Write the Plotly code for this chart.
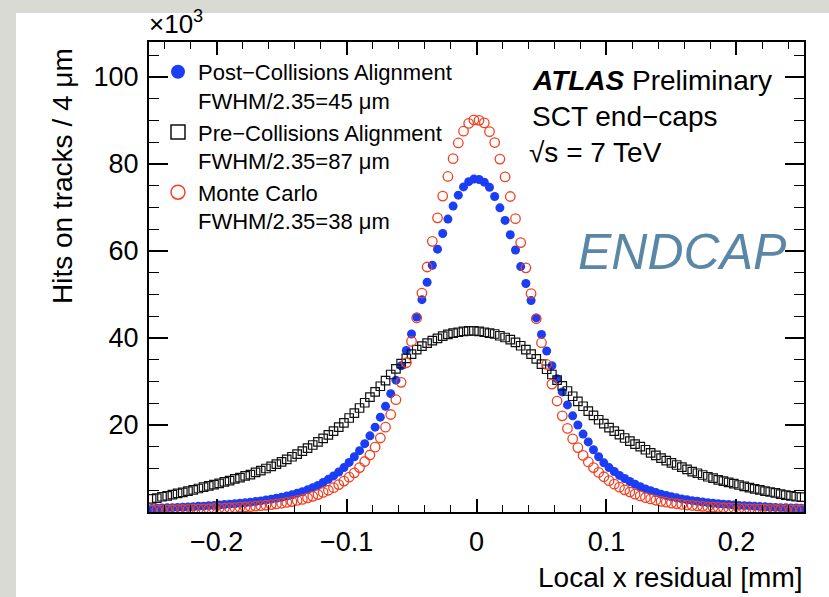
import plotly.graph_objects as go

# ---------------- data (hits on tracks, in units of 10^3) ----------------
bin_width = 0.004          # mm
first_center = -0.250      # mm

pre_left = [3.0, 3.2, 3.5, 3.7, 4.0, 4.3, 4.5, 4.8, 5.1, 5.4, 5.7, 6.0, 6.3,
            6.6, 6.9, 7.2, 7.6, 7.9, 8.3, 8.6, 9.1, 9.5, 10.0, 10.5, 11.0, 11.5,
            12.1, 12.7, 13.3, 14.0, 14.7, 15.4, 16.1, 16.9, 17.7, 18.6, 19.5, 20.5,
            21.6, 22.7, 23.9, 25.1, 26.4, 27.6, 28.9, 30.2, 31.6, 32.9, 34.1, 35.3,
            36.3, 37.3, 38.1, 38.8, 39.4, 39.9, 40.4, 40.8, 41.1, 41.3, 41.5, 41.6, 41.6]
pre_right = [41.5, 41.3, 41.1, 40.9, 40.5, 40.1, 39.6, 39.0, 38.2, 37.3, 36.3, 35.2, 34.0,
             32.8, 31.6, 30.3, 29.0, 27.8, 26.6, 25.4, 24.3, 23.2, 22.2, 21.2, 20.3,
             19.4, 18.6, 17.8, 17.0, 16.3, 15.6, 15.0, 14.3, 13.6, 13.0, 12.4, 11.8,
             11.3, 10.8, 10.3, 9.8, 9.3, 8.9, 8.5, 8.1, 7.8, 7.4, 7.1, 6.8, 6.5,
             6.2, 5.9, 5.6, 5.3, 5.1, 4.8, 4.6, 4.4, 4.1, 3.9, 3.7, 3.5, 3.4]

post_left = [0.8, 0.85, 0.9, 0.95, 1.0, 1.05, 1.1, 1.15, 1.2, 1.3, 1.35, 1.45, 1.5,
             1.6, 1.7, 1.8, 1.9, 2.0, 2.1, 2.25, 2.4, 2.55, 2.75, 2.95, 3.15, 3.4,
             3.65, 3.95, 4.3, 4.65, 5.1, 5.6, 6.1, 6.8, 7.5, 8.3, 9.2, 10.2,
             11.4, 12.7, 14.1, 15.7, 17.5, 19.5, 21.8, 24.3, 27.2, 30.3, 33.6, 37.1,
             40.9, 44.8, 48.8, 52.8, 56.7, 60.4, 64.0, 67.3, 70.3, 72.8, 74.7, 75.9, 76.5]
post_right = [76.4, 75.8, 74.6, 72.5, 69.9, 67.0, 63.7, 60.2, 56.4, 52.5, 48.6, 44.6, 40.8,
              37.0, 33.6, 30.6, 27.6, 24.6, 22.1, 20.0, 17.9, 16.1, 14.3, 12.7, 11.3,
              10.2, 9.3, 8.4, 7.7, 7.0, 6.4, 5.8, 5.3, 4.9, 4.5, 4.1, 3.8,
              3.5, 3.25, 3.0, 2.8, 2.6, 2.45, 2.3, 2.15, 2.0, 1.9, 1.8, 1.7, 1.6,
              1.5, 1.45, 1.4, 1.3, 1.25, 1.2, 1.1, 1.05, 1.0, 0.95, 0.9, 0.9, 0.85]

mc_left = [0.45, 0.47, 0.49, 0.5, 0.52, 0.55, 0.58, 0.6, 0.63, 0.67, 0.7, 0.75, 0.8,
           0.85, 0.9, 0.95, 1.0, 1.1, 1.15, 1.25, 1.35, 1.45, 1.55, 1.7, 1.85, 2.0,
           2.2, 2.4, 2.65, 2.9, 3.25, 3.6, 4.0, 4.5, 5.0, 5.6, 6.3, 7.1,
           8.0, 9.0, 10.2, 11.6, 13.1, 14.9, 17.0, 19.5, 22.4, 25.8, 29.8, 34.3,
           39.2, 44.6, 50.3, 56.3, 62.2, 67.6, 72.6, 77.1, 81.2, 84.8, 87.5, 89.3, 90.1]
mc_right = [90.0, 89.4, 87.4, 84.9, 81.1, 77.0, 72.5, 67.4, 61.9, 56.1, 50.2, 44.4, 38.9,
            33.9, 29.4, 25.5, 22.1, 19.2, 16.8, 14.8, 13.0, 11.5, 10.2, 9.1, 8.1,
            7.2, 6.4, 5.7, 5.1, 4.6, 4.1, 3.7, 3.3, 3.0, 2.7, 2.45, 2.25,
            2.05, 1.9, 1.75, 1.6, 1.5, 1.4, 1.3, 1.2, 1.12, 1.05, 0.98, 0.92, 0.87,
            0.82, 0.78, 0.74, 0.7, 0.66, 0.63, 0.6, 0.57, 0.55, 0.52, 0.5, 0.48, 0.46]

pre = pre_left + pre_right
post = post_left + post_right
mc = mc_left + mc_right
x = [round(first_center + i * bin_width, 3) for i in range(len(pre))]

labels = ["Post\u2212Collisions Alignment<br>FWHM/2.35=45 \u03bcm",
          "Pre\u2212Collisions Alignment<br>FWHM/2.35=87 \u03bcm",
          "Monte Carlo<br>FWHM/2.35=38 \u03bcm"]

x_ticks = [-0.2, -0.1, 0, 0.1, 0.2]
y_ticks = [20, 40, 60, 80, 100]

BLUE = "#1a3df5"
BLACK = "#111111"
RED = "#f2401f"

# ---------------- figure ----------------
W, H = 829, 597
ML, MR, MT, MB = 149, 25, 42, 85
PW, PH = W - ML - MR, H - MT - MB

def px(xp):
    return (xp - ML) / PW

def py(yp):
    return (H - MB - yp) / PH

FONT = "Liberation Sans, Arial, Helvetica, sans-serif"

styles = [
    dict(symbol="circle", color=BLUE, line=dict(width=0)),
    dict(symbol="square-open", color=BLACK, line=dict(width=1.2, color=BLACK)),
    dict(symbol="circle-open", color=RED, line=dict(width=1.3, color=RED)),
]
data_sizes = [9, 8.5, 9.5]
legend_sizes = [14, 14, 14]
series = [post, pre, mc]

fig = go.Figure()
for s, st, ds, name in zip(series, styles, data_sizes, labels):
    fig.add_trace(go.Scatter(x=x, y=s, mode="markers", name=name, showlegend=False,
                             marker=dict(size=ds, **st)))
# legend entries (larger symbols, as in the reference legend)
for st, ls, name in zip(styles, legend_sizes, labels):
    st2 = dict(st)
    if "open" in st2["symbol"]:
        st2["line"] = dict(width=1.5, color=st2["color"])
    fig.add_trace(go.Scatter(x=[None], y=[None], mode="markers", name=name,
                             showlegend=True, marker=dict(size=ls, **st2)))

fig.update_layout(
    width=W, height=H,
    margin=dict(l=ML, r=MR, t=MT, b=MB, pad=0),
    paper_bgcolor="#dadad4",
    plot_bgcolor="white",
    font=dict(family=FONT, color="black"),
    showlegend=True,
    legend=dict(x=px(158), y=py(51), xanchor="left", yanchor="top",
                bgcolor="rgba(0,0,0,0)", font=dict(size=22, family=FONT),
                valign="top", tracegroupgap=0),
    xaxis=dict(range=[-0.252, 0.252], tickvals=x_ticks, ticks="inside",
               ticklen=13, tickwidth=1.5, tickcolor="black",
               showline=True, linecolor="black", linewidth=2, mirror="ticks",
               showgrid=False, zeroline=False,
               tickfont=dict(size=27, family=FONT), ticklabelstandoff=5,
               minor=dict(tickmode="linear", tick0=0, dtick=0.02, ticks="inside",
                          ticklen=7, tickwidth=1.2, tickcolor="black", showgrid=False)),
    yaxis=dict(range=[0, 108], tickvals=y_ticks, ticks="inside",
               ticklen=19, tickwidth=1.5, tickcolor="black",
               showline=True, linecolor="black", linewidth=2, mirror="ticks",
               showgrid=False, zeroline=False,
               tickfont=dict(size=27, family=FONT), ticklabelstandoff=3,
               minor=dict(tickmode="linear", tick0=0, dtick=5, ticks="inside",
                          ticklen=10, tickwidth=1.2, tickcolor="black", showgrid=False)),
)

# white panel behind the chart
fig.add_shape(type="rect", xref="paper", yref="paper",
              x0=px(16), x1=px(835), y0=py(13), y1=py(600),
              fillcolor="white", line=dict(width=0), layer="below")

ann = []
ann.append(dict(text="\u00d710<sup>3</sup>", x=px(147), y=py(41), xanchor="left",
                yanchor="bottom", font=dict(size=26)))
ann.append(dict(text="Hits on tracks / 4 \u03bcm", textangle=-90, x=px(62), y=py(46),
                xanchor="center", yanchor="top", font=dict(size=28)))
ann.append(dict(text="Local x residual [mm]", x=px(805), y=py(577), xanchor="right",
                yanchor="middle", font=dict(size=28)))
ann.append(dict(text="<b><i>ATLAS</i></b> Preliminary", x=px(530), y=py(80),
                xanchor="left", yanchor="middle", font=dict(size=28)))
ann.append(dict(text="SCT end\u2212caps", x=px(530), y=py(117),
                xanchor="left", yanchor="middle", font=dict(size=28)))
ann.append(dict(text="\u221as = 7 TeV", x=px(527), y=py(152),
                xanchor="left", yanchor="middle", font=dict(size=28)))
ann.append(dict(text="<i>ENDCAP</i>", x=px(576), y=py(252),
                xanchor="left", yanchor="middle", font=dict(size=50, color="#5b87a7")))
for a in ann:
    a.update(xref="paper", yref="paper", showarrow=False)
fig.update_layout(annotations=ann)

fig.write_html("out.html")
